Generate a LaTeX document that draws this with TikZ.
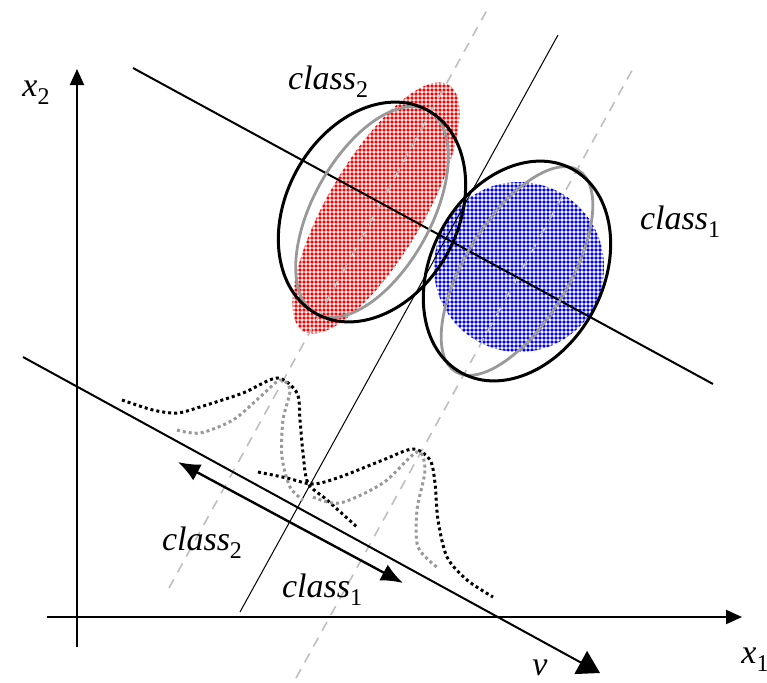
\documentclass[tikz,border=0pt]{standalone}
\usepackage{fontspec}
\setmainfont{Liberation Serif}
\usetikzlibrary{arrows.meta,patterns.meta}

\newcommand{\idxlbl}[2]{\textit{#1}\raisebox{-4pt}{\fontsize{12}{12}\selectfont #2}}

\begin{document}
\begin{tikzpicture}[x=0.5pt,y=-0.5pt,
  font=\fontsize{17}{20}\selectfont,
  axis/.style={line width=1pt, -{Triangle[length=8pt,width=7pt]}},
  proj/.style={line width=1pt},
  guide/.style={line width=0.8pt, black!25, dash pattern=on 5pt off 4pt},
  bound/.style={line width=1.5pt},
  cov/.style={line width=1.4pt, black!40},
  dens/.style={line width=1.5pt, dash pattern=on 1.5pt off 1.5pt},
  dotfill/.style={pattern={Dots[distance=2pt,radius=0.9pt]}},
  lbl/.style={inner sep=0pt}
]
\useasboundingbox (0,0) rectangle (767,682);

% class centres
\coordinate (red) at (376,208);
\coordinate (c2)  at (372,212);
\coordinate (c1)  at (517,271);

% filled class regions
\fill[dotfill, pattern color=red, shift={(red)}, rotate=59.5]
      (0,0) ellipse [x radius=71.5pt, y radius=24pt];
\fill[dotfill, pattern color=blue] (519,267) circle [radius=42.5pt];

% axes
\coordinate (o1) at (47,617);
\coordinate (e1) at (742,617);
\coordinate (o2) at (77,647);
\coordinate (e2) at (77,69);
\draw[axis] (o1) -- (e1);
\draw[axis] (o2) -- (e2);
\node[lbl] (x1) at (755,660) {\idxlbl{x}{1}};
\node[lbl] (x2) at (36,93) {\idxlbl{x}{2}};

% guide lines through the class centres
\coordinate (g1a) at (169,588);
\coordinate (g1b) at (487,10);
\coordinate (g2a) at (296,678);
\coordinate (g2b) at (635,65);
\draw[guide] (g1a) -- (g1b);
\draw[guide] (g2a) -- (g2b);

% separating lines
\coordinate (s1) at (133,68);
\coordinate (s2) at (713,384);
\draw[proj] (s1) -- (s2);
\coordinate (t1) at (240,612);
\coordinate (t2) at (558,35);
\draw[line width=0.5pt] (t1) -- (t2);

% projection direction v
\coordinate (v0) at (23,357);
\coordinate (v1) at (600,673);
\draw[proj, -{Triangle[length=11pt,width=13pt]}] (v0) -- (v1);
\node[lbl] (v) at (540,668) {\textit{v}};

% spread along v
\coordinate (d1) at (178,462);
\coordinate (d2) at (403,583);
\draw[line width=1.2pt, {Latex[length=11pt,width=9pt]}-{Latex[length=11pt,width=9pt]}] (d1) -- (d2);

% class boundaries
\draw[cov, shift={(c2)}, rotate=61] (0,0) ellipse [x radius=58pt, y radius=29.5pt];
\draw[bound, shift={(c2)}, rotate=61.5] (0,0) ellipse [x radius=58pt, y radius=43pt];
\draw[cov, shift={(c1)}, rotate=58.6] (0,0) ellipse [x radius=59pt, y radius=26pt];
\draw[bound, shift={(c1)}, rotate=61.5] (0,0) ellipse [x radius=58pt, y radius=43pt];

% projected densities
\draw[dens] plot[smooth] coordinates {(122,400) (153,410) (177,413) (200,407) (243,393)
  (277,378) (297,393) (300,420) (303,453) (308,483) (327,500) (357,527)};
\draw[dens, black!40] plot[smooth] coordinates {(177,430) (200,433) (233,420) (260,397)
  (280,380) (290,390) (283,420) (282,457) (290,487) (303,500)};
\draw[dens] plot[smooth] coordinates {(258,472) (287,478) (313,484) (340,477) (383,460)
  (413,449) (430,460) (435,483) (438,520) (447,557) (467,580) (493,597)};
\draw[dens, black!40] plot[smooth] coordinates {(313,497) (340,503) (383,483) (417,452)
  (425,470) (417,510) (418,547) (438,568)};

% labels
\node[lbl] (l2a) at (328,82)  {\idxlbl{class}{2}};
\node[lbl] (l1a) at (680,222) {\idxlbl{class}{1}};
\node[lbl] (l2b) at (202,543) {\idxlbl{class}{2}};
\node[lbl] (l1b) at (322,590) {\idxlbl{class}{1}};
\end{tikzpicture}
\end{document}
